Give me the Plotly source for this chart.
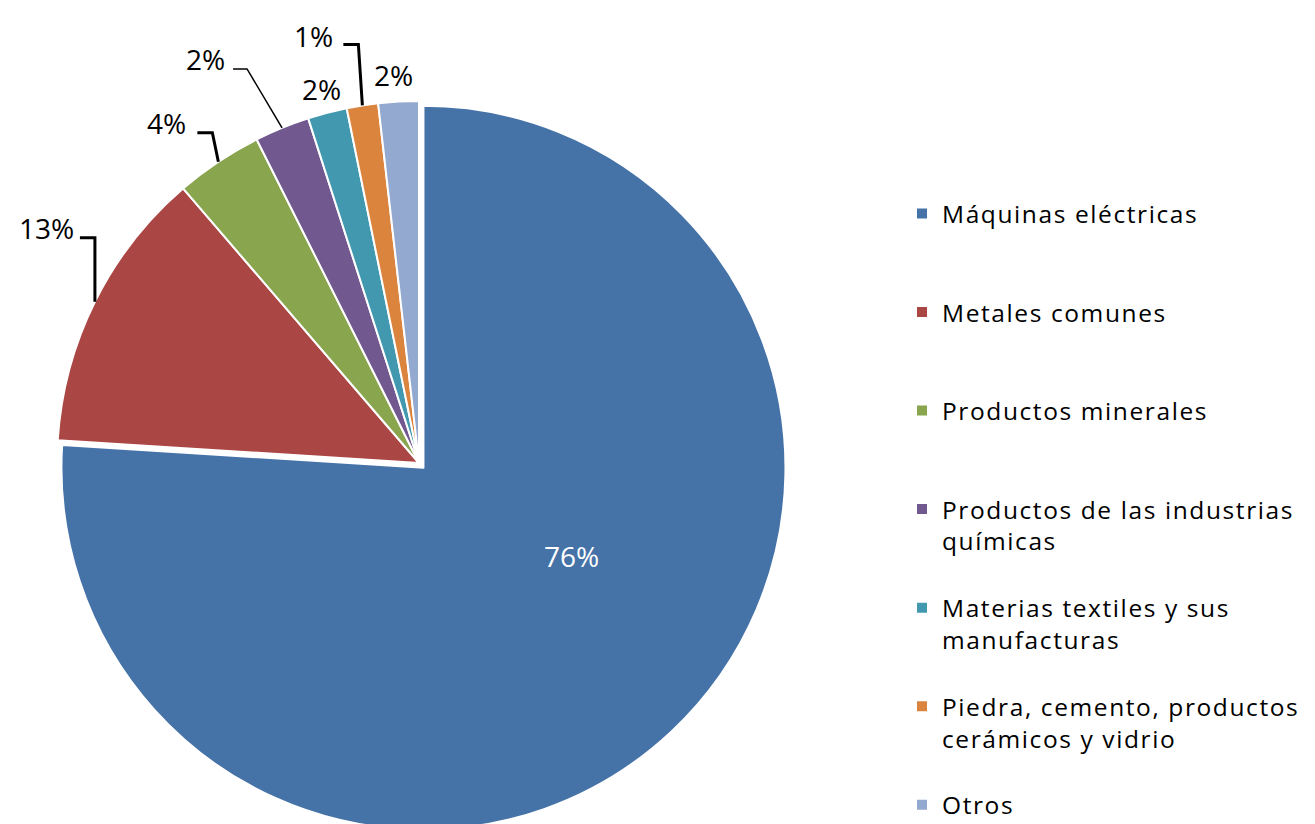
import math
import plotly.graph_objects as go

# ---------------- data ----------------
categories = [
    "Máquinas eléctricas",
    "Metales comunes",
    "Productos minerales",
    "Productos de las industrias<br>químicas",
    "Materias textiles y sus<br>manufacturas",
    "Piedra, cemento, productos<br>cerámicos y vidrio",
    "Otros",
]
shares = [76.0, 12.7, 3.9, 2.45, 1.75, 1.4, 1.8]

# ---------------- style ----------------
colors = ["#4572A7", "#AA4643", "#89A54E", "#71588F", "#4198AF", "#DB843D", "#93A9CF"]
W, H = 1315, 824
R = 362          # pie radius in px
PULL = 0.018     # explode of the first slice
CX = 411         # pie centre x in px (figure coords)
CY = 455         # pie centre y in px (figure coords)
FONT = "Open Sans"
LABEL_SIZE = 28
LEG_SIZE = 24.5

# label placement (px offsets relative to slice edge mid-point)
# "elbow": (elbow dx, elbow dy, horizontal length, text gap, text dy, line width)
# "free":  (text dx, text dy)
# "polar": (angle shift in degrees, radius fraction)
label_style = {
    0: ("polar", -16, 0.477),
    1: ("elbow", 0, -64, -15, 4, -10, 3),
    2: ("elbow", -6, -29, -15, 9, -10, 3),
    3: ("elbow", -35, -59, -14, 6, -10, 1.5),
    4: ("free", -6, -24),
    5: ("elbow", -4, -61, -15, 8, -8, 3),
    6: ("free", -5, -27),
}

total = sum(shares)
pct_text = [f"{round(v / total * 100):.0f}%" for v in shares]

half = R * (1 + PULL)
domain_x = [(CX - half) / W, (CX + half) / W]
domain_y = [max(0.0, 1 - (CY + half) / H), 1 - (CY - half) / H]

legend_labels = []
for c in categories[:-1]:
    n = c.count("<br>") + 1
    legend_labels.append(c + "<br>\u00a0" * (3 - n))
legend_labels.append(categories[-1])
legend_labels = [f'<span style="letter-spacing:1.6px">{t}</span>' for t in legend_labels]

fig = go.Figure(
    go.Pie(
        labels=legend_labels,
        values=shares,
        sort=False,
        direction="clockwise",
        rotation=0,
        pull=[PULL] + [0] * (len(shares) - 1),
        marker=dict(colors=colors, line=dict(color="white", width=2)),
        textinfo="none",
        hoverinfo="percent",
        domain=dict(x=domain_x, y=domain_y),
    )
)


def px2paper(x, y):
    return x / W, 1 - y / H


annotations = []
shapes = []
cum = 0.0
for i, v in enumerate(shares):
    mid = (cum + v / 2) / total * 2 * math.pi
    cum += v
    if i not in label_style:
        continue
    st = label_style[i]
    if st[0] == "polar":
        _, dth, rf = st
        ang = mid + math.radians(dth)
        off = R * PULL
        pcx = CX + off * math.sin(mid)
        pcy = CY - off * math.cos(mid)
        tx, ty = px2paper(pcx + rf * R * math.sin(ang), pcy - rf * R * math.cos(ang))
        annotations.append(dict(
            x=tx, y=ty, xref="paper", yref="paper", text=pct_text[i],
            showarrow=False, xanchor="center", yanchor="middle",
            font=dict(family=FONT, size=LABEL_SIZE, color="white"),
        ))
        continue
    ax = CX + R * math.sin(mid)
    ay = CY - R * math.cos(mid)
    if st[0] == "elbow":
        _, edx, edy, hl, gap, tdy, lw = st
        ex, ey = ax + edx, ay + edy
        hx = ex + hl
        p0 = px2paper(ax, ay)
        p1 = px2paper(ex, ey)
        p2 = px2paper(hx, ey)
        shapes.append(dict(
            type="path", xref="paper", yref="paper",
            path=f"M {p0[0]} {p0[1]} L {p1[0]} {p1[1]} L {p2[0]} {p2[1]}",
            line=dict(color="black", width=lw),
        ))
        tx, ty = px2paper(hx - gap, ey + tdy)
        annotations.append(dict(
            x=tx, y=ty, xref="paper", yref="paper", text=pct_text[i],
            showarrow=False, xanchor="right", yanchor="middle",
            font=dict(family=FONT, size=LABEL_SIZE, color="black"),
        ))
    else:
        _, tdx, tdy = st
        tx, ty = px2paper(ax + tdx, ay + tdy)
        annotations.append(dict(
            x=tx, y=ty, xref="paper", yref="paper", text=pct_text[i],
            showarrow=False, xanchor="center", yanchor="middle",
            font=dict(family=FONT, size=LABEL_SIZE, color="black"),
        ))

fig.update_layout(
    width=W,
    height=H,
    margin=dict(l=0, r=0, t=0, b=0),
    paper_bgcolor="white",
    plot_bgcolor="white",
    showlegend=True,
    legend=dict(
        x=894 / W, xanchor="left",
        y=1 - 183 / H, yanchor="top",
        font=dict(family=FONT, size=LEG_SIZE, color="black"),
        valign="top",
        bgcolor="rgba(0,0,0,0)",
        traceorder="normal",
    ),
    annotations=annotations,
    shapes=shapes,
)

fig.write_html("out.html")
